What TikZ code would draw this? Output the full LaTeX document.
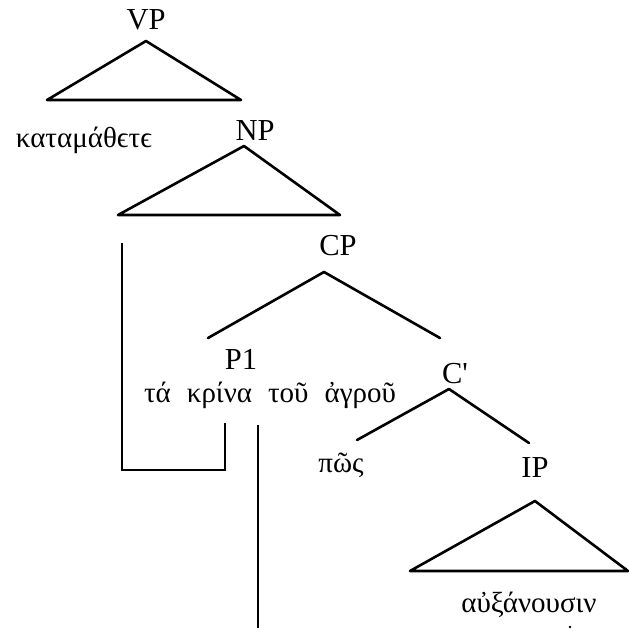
\documentclass[tikz,border=0pt]{standalone}
\usepackage{fontspec}
\setmainfont{Liberation Serif}[Ligatures=TeXOff]
\tikzset{
  lbl/.style={anchor=base, inner sep=0pt, font=\fontsize{30.5}{36}\selectfont},
  grk/.style={anchor=base, inner sep=0pt, font=\fontsize{29}{34}\selectfont},
  ln/.style={line width=2.6pt, line cap=round, line join=round}
}
\begin{document}
\begin{tikzpicture}[x=1pt,y=-1pt]
\useasboundingbox (0,0) rectangle (629,641);
% labels
\node[lbl] (VP) at (146,29) {VP};
\node[grk] (kat) at (84,147) {καταμάθϵτϵ};
\node[lbl] (NP) at (255,140) {NP};
\node[lbl] (CP) at (338,255) {CP};
\node[lbl] (P1) at (241,369) {P1};
\node[grk] (phr) at (270,402) {τά\hspace{16pt}κρίνα\hspace{16pt}τοῦ\hspace{16pt}ἀγροῦ};
\node[lbl] (Cb) at (455,383) {C'};
\node[grk] (pos) at (341,472) {πῶς};
\node[lbl] (IP) at (535,477) {IP};
\node[grk] (aux) at (529,612) {αὐξάνουσιν};
% triangle corners
\coordinate (vpA) at (146,41);
\coordinate (vpL) at (47,100);
\coordinate (vpR) at (241,100);
\coordinate (npA) at (244,146);
\coordinate (npL) at (118,215);
\coordinate (npR) at (340,215);
\coordinate (ipA) at (535,501);
\coordinate (ipL) at (410,571);
\coordinate (ipR) at (628,571);
\draw[ln] (vpA) -- (vpL) -- (vpR) -- cycle;
\draw[ln] (npA) -- (npL) -- (npR) -- cycle;
\draw[ln] (ipA) -- (ipL) -- (ipR) -- cycle;
% branches
\coordinate (cpA) at (324,272);
\coordinate (cpL) at (208,338);
\coordinate (cpR) at (440,338);
\draw[ln] (cpA) -- (cpL);
\draw[ln] (cpA) -- (cpR);
\coordinate (cbA) at (449,389);
\coordinate (cbL) at (357,440);
\coordinate (cbR) at (529,443);
\draw[ln] (cbA) -- (cbL);
\draw[ln] (cbA) -- (cbR);
% bracket and vertical line
\coordinate (b1) at (122,243);
\coordinate (b2) at (122,470);
\coordinate (b3) at (225,470);
\coordinate (b4) at (225,423);
\draw[ln, line cap=butt, line join=miter] (b1) -- (b2) -- (b3) -- (b4);
\coordinate (v1) at (258,425);
\coordinate (v2) at (258,628);
\draw[ln, line cap=butt] (v1) -- (v2);
\fill (570,627) circle (1.4);
\end{tikzpicture}
\end{document}
